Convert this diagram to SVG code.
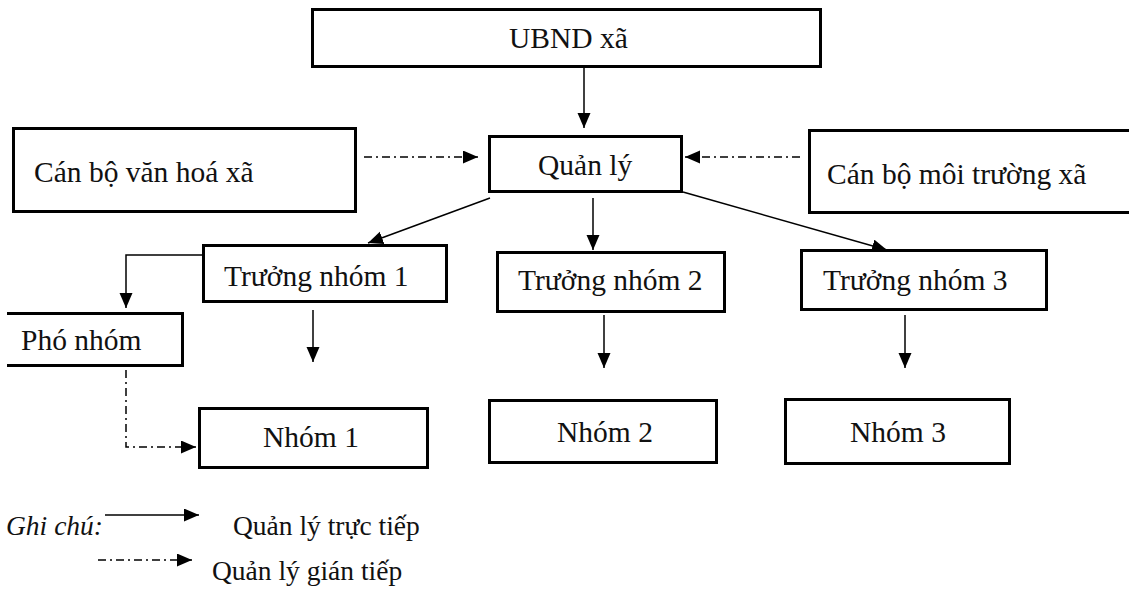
<svg xmlns="http://www.w3.org/2000/svg" width="1129" height="590" viewBox="0 0 1129 590">
<style>
.box{fill:#fff;stroke:#000;stroke-width:3}
.t{font-family:"Liberation Serif","Times New Roman",serif;font-size:29.5px;fill:#111}
.lt{font-family:"Liberation Serif","Times New Roman",serif;font-size:27.5px;fill:#111}
.c{fill:none;stroke:#000;stroke-width:1.5}
.d{stroke-dasharray:8,4,2,4}
</style>
<defs>
<marker id="ah" markerUnits="userSpaceOnUse" markerWidth="16" markerHeight="14" refX="15" refY="6.5" orient="auto">
<path d="M0,0 L15,6.5 L0,13 z" fill="#000"/>
</marker>
</defs>
<rect width="1129" height="590" fill="#fff"/>
<g id="connectors">
<path class="c" d="M584,59 V128" marker-end="url(#ah)"/>
<path class="c d" d="M364,157 H478" marker-end="url(#ah)"/>
<path class="c d" d="M800,157 H685" marker-end="url(#ah)"/>
<path class="c" d="M490,198 L368,243" marker-end="url(#ah)"/>
<path class="c" d="M593,198 V250" marker-end="url(#ah)"/>
<path class="c" d="M683,192 L887,250" marker-end="url(#ah)"/>
<path class="c" d="M202,255 H126 V308" marker-end="url(#ah)"/>
<path class="c" d="M313,310 V362" marker-end="url(#ah)"/>
<path class="c" d="M604,315 V368" marker-end="url(#ah)"/>
<path class="c" d="M905,315 V368" marker-end="url(#ah)"/>
<path class="c d" d="M126,370 V447 H196" marker-end="url(#ah)"/>
</g>
<g id="ubnd"><rect class="box" x="312.5" y="9.5" width="508" height="57"/><text class="t" x="509" y="48">UBND xã</text></g>
<g id="cbvh"><rect class="box" x="13.5" y="128.5" width="342" height="83"/><text class="t" x="34" y="182">Cán bộ văn hoá xã</text></g>
<g id="quanly"><rect class="box" x="489.5" y="136.5" width="192" height="55"/><text class="t" x="538" y="175">Quản lý</text></g>
<g id="cbmt"><rect class="box" x="809.5" y="130.5" width="330" height="82"/><text class="t" x="827" y="184">Cán bộ môi trường xã</text></g>
<g id="tn1"><rect class="box" x="203.5" y="245.5" width="243" height="56"/><text class="t" x="224" y="286">Trưởng nhóm 1</text></g>
<g id="tn2"><rect class="box" x="497.5" y="252.5" width="227" height="59"/><text class="t" x="518" y="290">Trưởng nhóm 2</text></g>
<g id="tn3"><rect class="box" x="801.5" y="250.5" width="245" height="59"/><text class="t" x="823" y="290">Trưởng nhóm 3</text></g>
<g id="phonhom"><path class="box" d="M7,313.5 H182.5 V365.5 H7"/><text class="t" x="21" y="350">Phó nhóm</text></g>
<g id="nhom1"><rect class="box" x="199.5" y="408.5" width="228" height="59"/><text class="t" x="311" y="447" text-anchor="middle">Nhóm 1</text></g>
<g id="nhom2"><rect class="box" x="489.5" y="400.5" width="227" height="62"/><text class="t" x="557" y="442">Nhóm 2</text></g>
<g id="nhom3"><rect class="box" x="785.5" y="399.5" width="224" height="64"/><text class="t" x="850" y="442">Nhóm 3</text></g>
<g id="legend">
<text class="lt" x="6" y="535" font-style="italic" font-size="26.5px">Ghi chú:</text>
<path class="c" d="M105,515 H199" marker-end="url(#ah)"/>
<text class="lt" x="233" y="535">Quản lý trực tiếp</text>
<path class="c d" d="M98,560 H192" marker-end="url(#ah)"/>
<text class="lt" x="212" y="580">Quản lý gián tiếp</text>
</g>
</svg>
